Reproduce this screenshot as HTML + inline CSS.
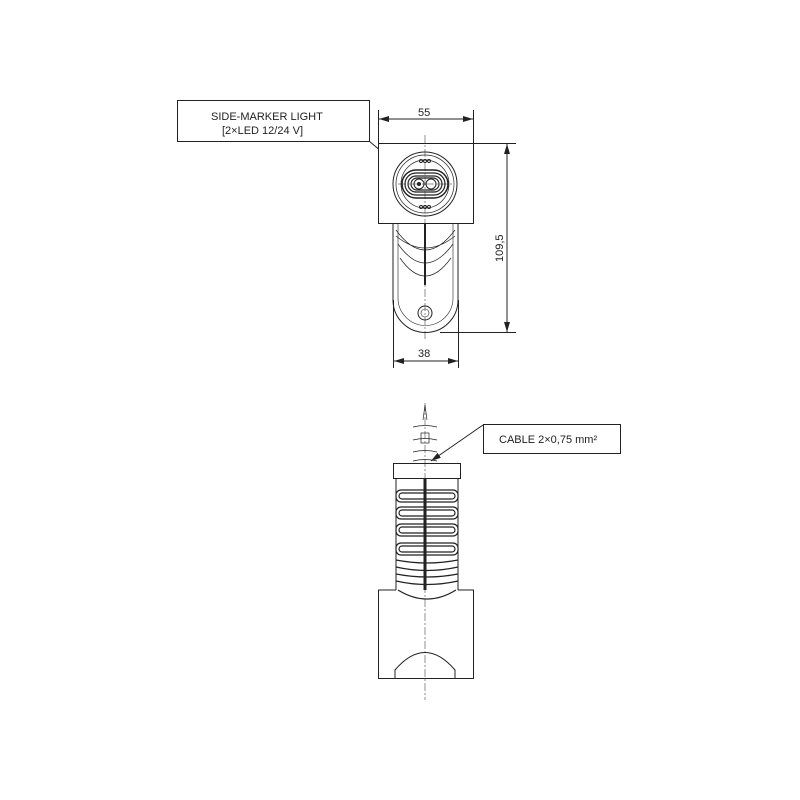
<!DOCTYPE html>
<html><head><style>body{margin:0;background:#fff}svg{display:block}text{font-family:"Liberation Sans",sans-serif;font-size:11px;fill:#222}</style></head>
<body>
<svg width="800" height="800" viewBox="0 0 800 800" fill="none" stroke="#222" stroke-width="1">
<defs><marker id="a" markerWidth="10" markerHeight="6" refX="10" refY="3" orient="auto-start-reverse"><path d="M0,0 L10,3 L0,6z" fill="#222" stroke="none"/></marker></defs>
<!-- label box -->
<rect x="177.5" y="100.5" width="192" height="41"/>
<text x="211" y="120" stroke="none">SIDE-MARKER LIGHT</text>
<text x="222" y="134" stroke="none">[2×LED 12/24 V]</text>
<line x1="369" y1="141" x2="406" y2="172"/>
<!-- top view body -->
<path d="M393 223 V300 A32 32 0 0 0 458 300 V223"/>
<path d="M398 223 V298 A27 27 0 0 0 453 298 V223" stroke-width="0.6"/>
<path d="M396 230 Q425 270 455 230 M398 244 Q425 282 453 244 M400 258 Q425 294 451 258 M396 236 Q425 260 455 236" stroke-width="0.7"/>
<line x1="425" y1="223" x2="425" y2="285" stroke-width="2"/>
<circle cx="425" cy="313" r="7"/><circle cx="425" cy="313" r="4" stroke-width="0.6"/>
<rect x="378.5" y="143.5" width="95" height="80" fill="#fff"/>
<circle cx="425" cy="184" r="32"/><circle cx="425" cy="184" r="29" stroke-width="0.7"/><circle cx="425" cy="184" r="24" stroke-width="0.7"/>
<rect x="402" y="170" width="46" height="28" rx="14" stroke-width="1.5"/>
<rect x="405" y="173" width="40" height="22" rx="11" stroke-width="1.2"/>
<rect x="408" y="176" width="34" height="16" rx="8" stroke-width="1.2"/>
<rect x="411" y="178" width="28" height="12" rx="6" stroke-width="1.2"/>
<circle cx="419" cy="184" r="5"/><circle cx="431" cy="184" r="5"/>
<circle cx="419" cy="184" r="1.5" fill="#222"/>
<circle cx="421" cy="161" r="1.5"/><circle cx="425" cy="161" r="1.5"/><circle cx="429" cy="161" r="1.5"/>
<circle cx="421" cy="207" r="1.5"/><circle cx="425" cy="207" r="1.5"/><circle cx="429" cy="207" r="1.5"/>
<line x1="425" y1="135" x2="425" y2="340" stroke-width="0.5" stroke-dasharray="8 2 2 2"/>
<line x1="398" y1="184" x2="452" y2="184" stroke-width="0.5" stroke-dasharray="8 2 2 2"/>
<!-- dims -->
<line x1="378.5" y1="110" x2="378.5" y2="143"/><line x1="473.5" y1="110" x2="473.5" y2="143"/>
<line x1="379" y1="119" x2="473" y2="119" marker-start="url(#a)" marker-end="url(#a)"/>
<text x="418" y="116" stroke="none">55</text>
<line x1="473" y1="143.5" x2="516" y2="143.5"/><line x1="440" y1="332.5" x2="516" y2="332.5"/>
<line x1="507" y1="144" x2="507" y2="332" marker-start="url(#a)" marker-end="url(#a)"/>
<text x="0" y="0" stroke="none" transform="translate(503 262) rotate(-90)">109,5</text>
<line x1="393.5" y1="300" x2="393.5" y2="368"/><line x1="458.5" y1="300" x2="458.5" y2="368"/>
<line x1="394" y1="361" x2="458" y2="361" marker-start="url(#a)" marker-end="url(#a)"/>
<text x="418" y="357" stroke="none">38</text>
<!-- bottom view -->
<line x1="425" y1="403" x2="425" y2="700" stroke-width="0.5" stroke-dasharray="8 2 2 2"/>
<path d="M423 420 L425 405 L427 420 M413 427 Q425 424 437 427 M413 440 Q425 437 437 440 M413 452 Q425 449 437 452 M413 461 Q425 458 437 461" stroke-width="0.7"/>
<rect x="421" y="433" width="8" height="10" stroke-width="0.7"/>
<rect x="393.5" y="463.5" width="67" height="15"/>
<path d="M396 478 V590 M458 478 V590"/>
<g stroke-width="1.2">
<rect x="396" y="490" width="62" height="12" rx="5"/><rect x="399" y="493" width="56" height="6" rx="3"/>
<rect x="396" y="507" width="62" height="12" rx="5"/><rect x="399" y="510" width="56" height="6" rx="3"/>
<rect x="396" y="524" width="62" height="12" rx="5"/><rect x="399" y="527" width="56" height="6" rx="3"/>
<rect x="396" y="543" width="62" height="12" rx="5"/><rect x="399" y="546" width="56" height="6" rx="3"/>
<path d="M396 560 Q427 566 458 560 M396 567 Q427 574 458 567 M396 574 Q427 580 458 574 M396 581 Q427 588 458 581 M398 590 Q427 608 456 590"/>
</g>
<line x1="425" y1="478" x2="425" y2="590" stroke-width="3"/>
<path d="M396 590 H378.5 V678.5 H473.5 V590 H458"/>
<path d="M395 678 V670 Q425 635 455 670 V678"/>
<!-- cable label -->
<rect x="483.5" y="424.5" width="137" height="29"/>
<text x="499" y="443" stroke="none">CABLE 2×0,75 mm²</text>
<line x1="483" y1="425" x2="431" y2="461" marker-end="url(#a)"/>
</svg>
</body></html>
